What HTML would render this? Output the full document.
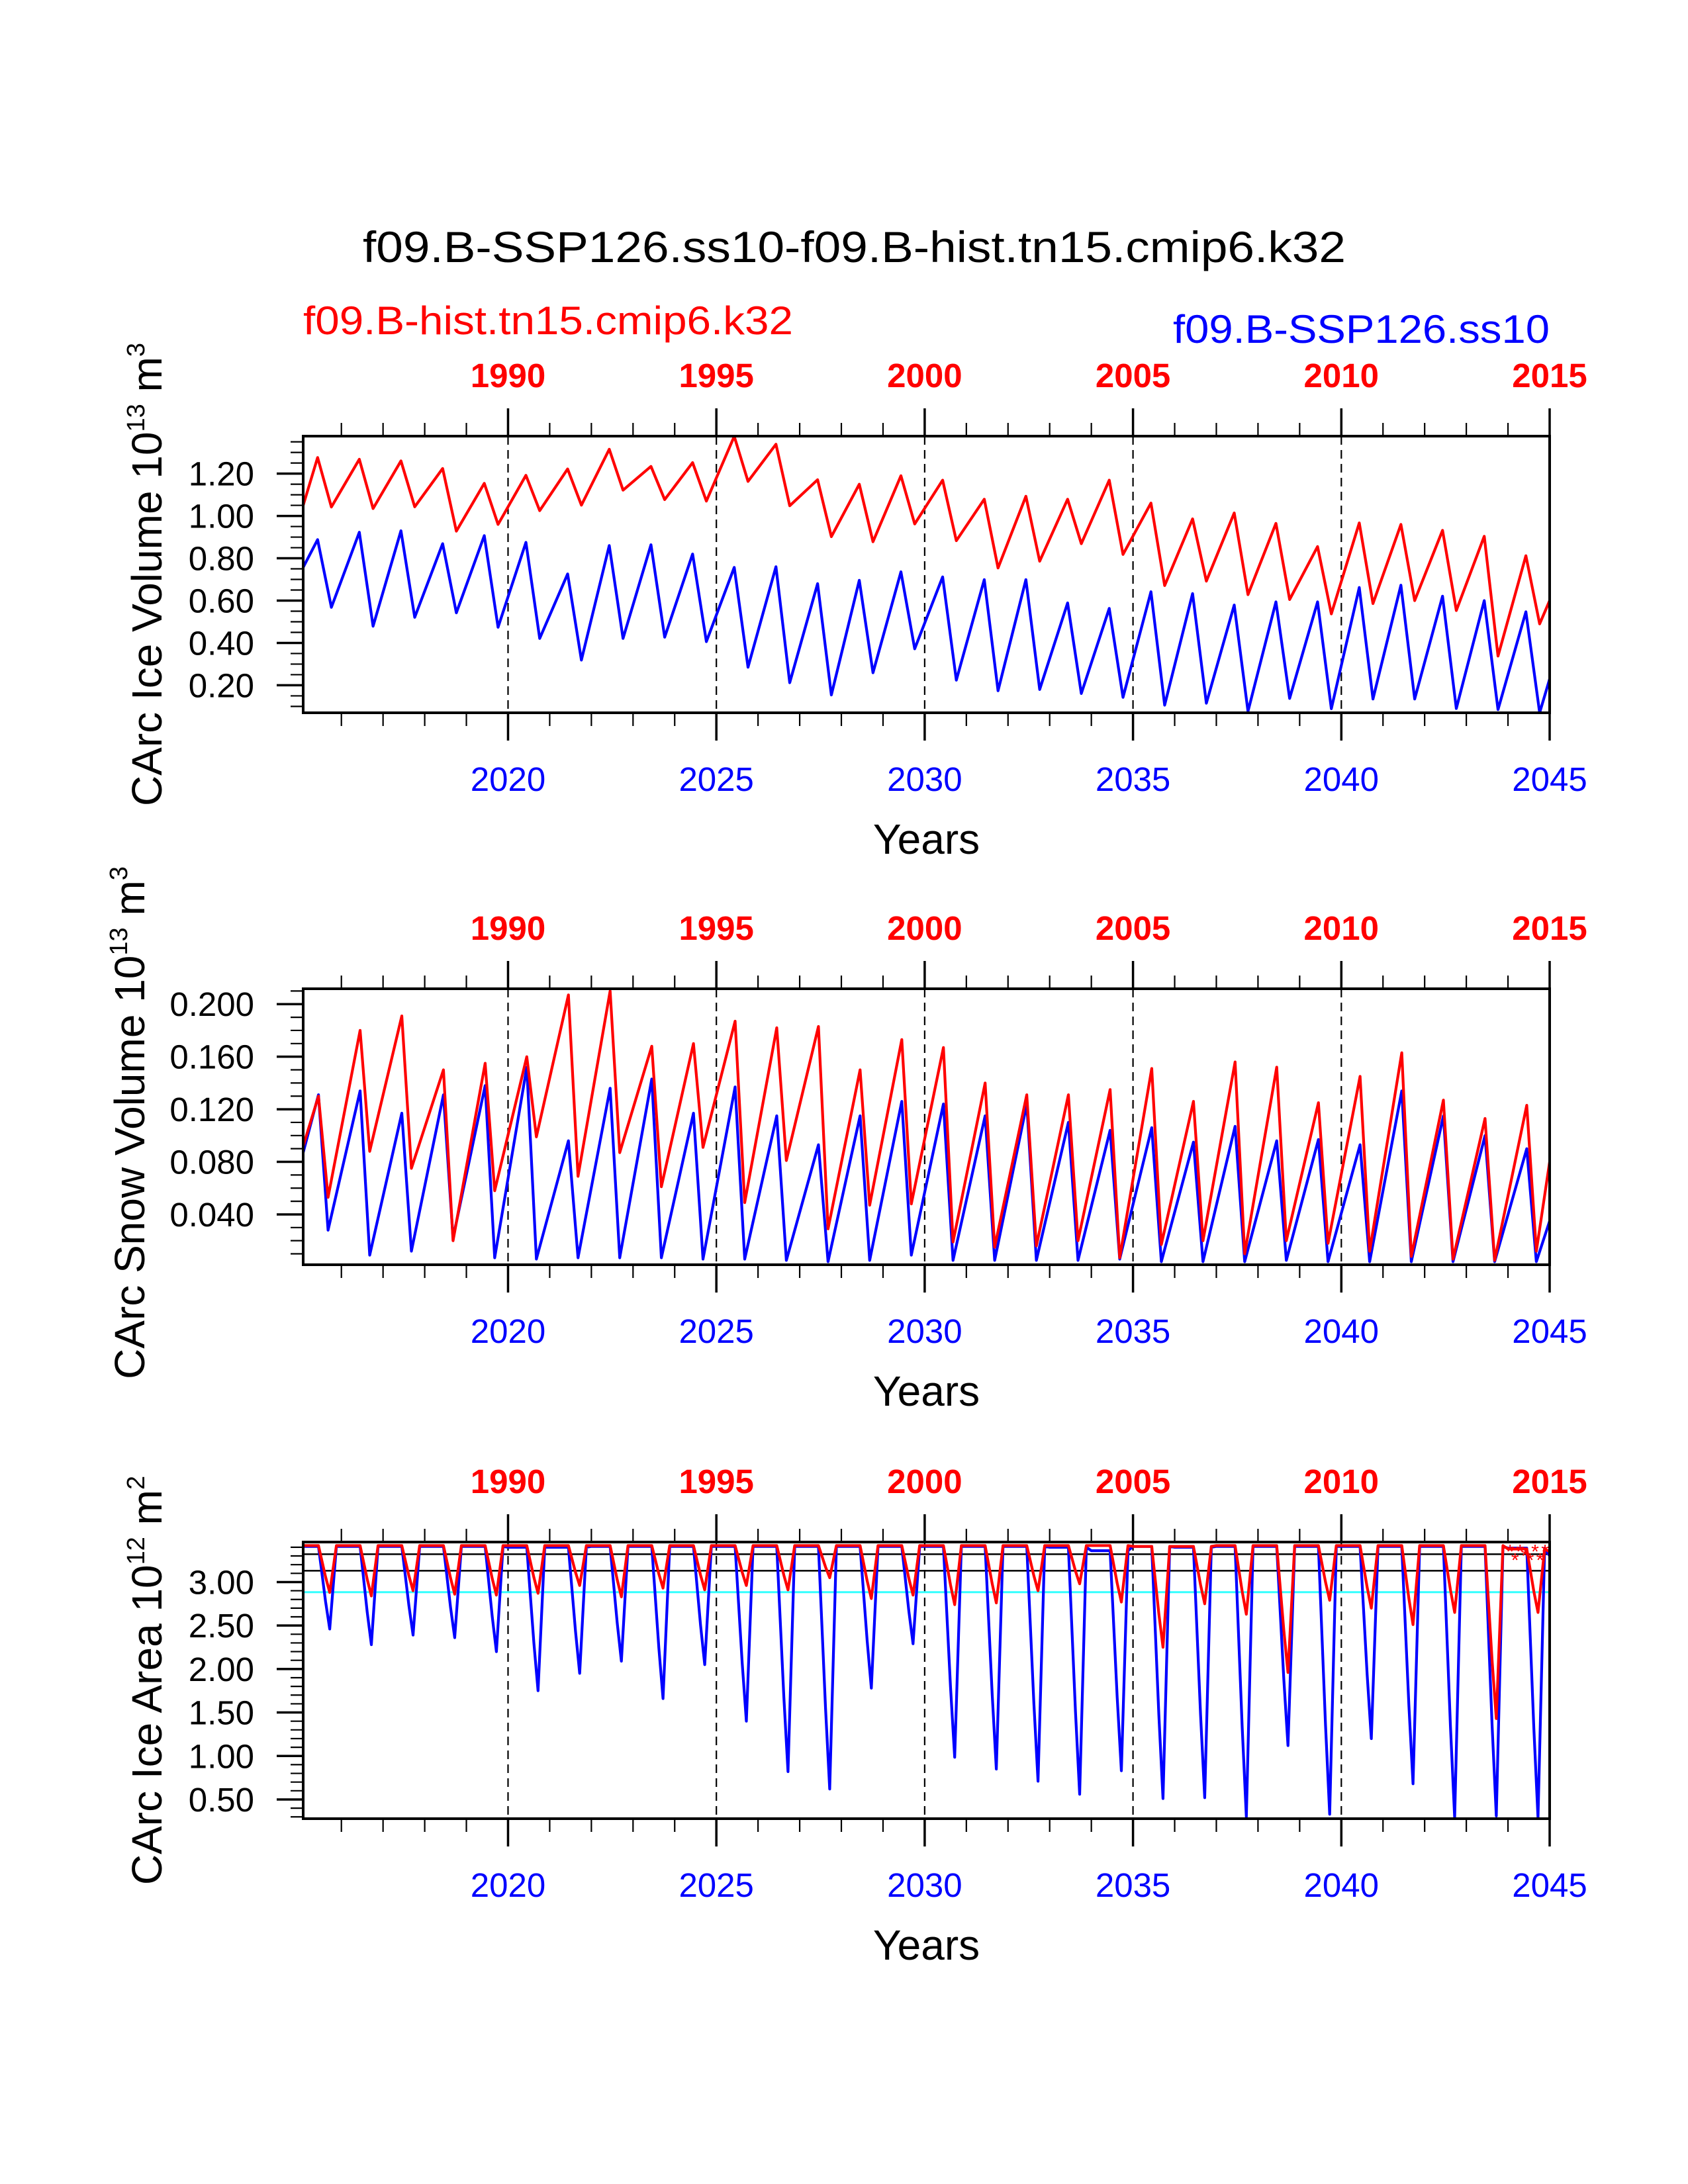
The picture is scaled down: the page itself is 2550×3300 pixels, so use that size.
<!DOCTYPE html>
<html><head><meta charset="utf-8"><style>
html,body{margin:0;padding:0;background:#fff;}
svg{display:block;font-family:"Liberation Sans",Arial,sans-serif;}
</style></head><body>
<svg id="chart" xmlns="http://www.w3.org/2000/svg" width="2550" height="3300" viewBox="0 0 2550 3300">
<rect width="2550" height="3300" fill="#fff"/>
<text x="548" y="396" font-size="66" textLength="1485" lengthAdjust="spacingAndGlyphs">f09.B-SSP126.ss10-f09.B-hist.tn15.cmip6.k32</text>
<text x="458" y="505" font-size="60" fill="#ff0000" textLength="740" lengthAdjust="spacingAndGlyphs">f09.B-hist.tn15.cmip6.k32</text>
<text x="1772" y="518" font-size="60" fill="#0000ff" textLength="569" lengthAdjust="spacingAndGlyphs">f09.B-SSP126.ss10</text>
<g id="plots"></g>
</svg>
<script>
// ---- data (blue = 2015-2044 SSP126, red = 1985-2014 hist), one peak & trough per year ----
const years = [2015,2016,2017,2018,2019,2020,2021,2022,2023,2024,2025,2026,2027,2028,2029,2030,2031,2032,2033,2034,2035,2036,2037,2038,2039,2040,2041,2042,2043,2044];
const topYearLabels = ["1990","1995","2000","2005","2010","2015"];
const bottomYearLabels = ["2020","2025","2030","2035","2040","2045"];

const iceVolRedPeak   = [1.276,1.268,1.26,1.224,1.154,1.192,1.222,1.315,1.234,1.252,1.376,1.339,1.171,1.15,1.19,1.169,1.079,1.093,1.079,1.169,1.061,0.986,1.014,0.965,0.855,0.967,0.96,0.932,0.904,0.812];
const iceVolRedTrough = [1.042,1.035,1.043,0.928,0.96,1.025,1.051,1.122,1.077,1.07,1.163,1.048,0.902,0.878,0.962,0.883,0.754,0.786,0.869,0.818,0.671,0.692,0.628,0.605,0.537,0.586,0.6,0.553,0.338,0.49];
const iceVolRedEnds = [1.05,0.6];
const iceVolBluePeak   = [0.888,0.923,0.93,0.869,0.907,0.875,0.726,0.86,0.864,0.82,0.757,0.76,0.68,0.696,0.736,0.712,0.699,0.699,0.589,0.563,0.642,0.633,0.579,0.594,0.594,0.662,0.673,0.621,0.6,0.547];
const iceVolBlueTrough = [0.568,0.479,0.521,0.542,0.474,0.421,0.319,0.421,0.427,0.406,0.285,0.212,0.154,0.259,0.372,0.224,0.174,0.18,0.161,0.143,0.106,0.115,0.077,0.138,0.089,0.135,0.135,0.09,0.085,0.07];
const iceVolBlueEnds = [0.757,0.23];

const snowRedPeak   = [0.130,0.180,0.191,0.150,0.155,0.160,0.207,0.210,0.168,0.170,0.187,0.182,0.183,0.150,0.173,0.167,0.140,0.131,0.131,0.135,0.151,0.126,0.156,0.152,0.125,0.145,0.163,0.127,0.113,0.123];
const snowRedTrough = [0.053,0.088,0.075,0.020,0.058,0.099,0.069,0.087,0.061,0.091,0.049,0.081,0.029,0.047,0.048,0.019,0.015,0.016,0.020,0.007,0.017,0.020,0.010,0.020,0.018,0.012,0.008,0.006,0.005,0.012];
const snowRedEnds = [0.092,0.080];
const snowBluePeak   = [0.131,0.134,0.117,0.131,0.138,0.152,0.096,0.136,0.143,0.117,0.137,0.115,0.093,0.115,0.126,0.124,0.115,0.124,0.110,0.104,0.106,0.095,0.107,0.096,0.097,0.093,0.134,0.115,0.100,0.090];
const snowBlueTrough = [0.028,0.009,0.012,0.022,0.007,0.006,0.007,0.007,0.007,0.006,0.006,0.005,0.004,0.005,0.009,0.005,0.005,0.005,0.005,0.006,0.004,0.004,0.004,0.005,0.004,0.004,0.004,0.004,0.004,0.004];
const snowBlueEnds = [0.087,0.035];

const areaRedPlateau = [3.42,3.42,3.42,3.42,3.42,3.42,3.42,3.42,3.42,3.42,3.42,3.42,3.42,3.42,3.42,3.42,3.42,3.42,3.42,3.42,3.41,3.41,3.42,3.42,3.42,3.42,3.42,3.42,3.42,3.38];
const areaRedTrough  = [2.88,2.84,2.90,2.86,2.85,2.87,2.96,2.83,2.93,2.91,2.96,2.91,3.05,2.81,2.85,2.74,2.76,2.90,2.98,2.77,2.25,2.75,2.63,1.96,2.79,2.70,2.51,2.65,1.43,2.65];
const areaRedEnds = [3.42,3.35];
const areaBluePlateau = [3.41,3.41,3.41,3.41,3.41,3.40,3.40,3.41,3.41,3.41,3.41,3.41,3.41,3.41,3.41,3.41,3.41,3.41,3.40,3.36,3.41,3.40,3.41,3.41,3.41,3.41,3.41,3.41,3.41,3.39];
const areaBlueTrough  = [2.46,2.28,2.39,2.36,2.20,1.75,1.95,2.09,1.66,2.05,1.40,0.82,0.62,1.78,2.29,0.985,0.85,0.71,0.56,0.83,0.51,0.52,0.30,1.12,0.33,1.20,0.68,0.29,0.31,0.29];
const areaBlueEnds = [3.41,3.30];
const areaRefLines = [3.32,3.13];
const areaCyanLine = [2.884];

// ---- layout ----
const NS="http://www.w3.org/2000/svg";
const X0=458, X1=2341, T0=2015.083, T1=2045;
function xOf(t){return X0+(t-T0)/(T1-T0)*(X1-X0);}
const panels=[
 {top:659,bot:1077,vmin:0.070,vmax:1.377,major:0.2,minor:0.05,mlo:0.1,mhi:1.35,dec:2,
  title:["CArc Ice Volume 10","13"," m","3"],tx:244,
  red:{peak:iceVolRedPeak,trough:iceVolRedTrough,ends:iceVolRedEnds},blue:{peak:iceVolBluePeak,trough:iceVolBlueTrough,ends:iceVolBlueEnds},kind:"vol",name:"ice-volume"},
 {top:1494,bot:1911,vmin:0.0017,vmax:0.2117,major:0.04,minor:0.01,mlo:0.01,mhi:0.21,dec:3,
  title:["CArc Snow Volume 10","13"," m","3"],tx:218,
  red:{peak:snowRedPeak,trough:snowRedTrough,ends:snowRedEnds},blue:{peak:snowBluePeak,trough:snowBlueTrough,ends:snowBlueEnds},kind:"snow",name:"snow-volume"},
 {top:2330,bot:2748,vmin:0.279,vmax:3.46,major:0.5,minor:0.1,mlo:0.3,mhi:3.4,dec:2,
  title:["CArc Ice Area 10","12"," m","2"],tx:244,
  red:{peak:areaRedPlateau,trough:areaRedTrough,ends:areaRedEnds},blue:{peak:areaBluePlateau,trough:areaBlueTrough,ends:areaBlueEnds},kind:"area",name:"ice-area"}
];
function mk(tag,attrs,parent){const e=document.createElementNS(NS,tag);for(const k in attrs)e.setAttribute(k,attrs[k]);parent.appendChild(e);return e;}
const root=document.getElementById("plots");

function seriesPoints(s,kind){
  const pts=[[T0,s.ends[0]]];
  years.forEach((y,i)=>{
    if(kind==="vol"){pts.push([y+0.43,s.peak[i]]);pts.push([y+0.76,s.trough[i]]);}
    else if(kind==="snow"){pts.push([y+0.45,s.peak[i]]);pts.push([y+0.68,s.trough[i]]);}
    else{ if(i>0)pts.push([y+0.0,s.peak[i]]); pts.push([y+0.45,s.peak[i]]);pts.push([y+0.62,(s.peak[i]+s.trough[i]*2)/3]);pts.push([y+0.72,s.trough[i]]);pts.push([y+0.88,s.peak[i]]);}
  });
  pts.push([T1,s.ends[1]]);
  return pts;
}

panels.forEach((p,pi)=>{
  const g=mk("g",{},root);
  
  
  const yOf=v=>p.bot-(v-p.vmin)/(p.vmax-p.vmin)*(p.bot-p.top);
  const cid="clip"+pi;
  const cp=mk("clipPath",{id:cid},g);
  mk("rect",{x:X0,y:p.top,width:X1-X0,height:p.bot-p.top},cp);
  // dashed year lines
  for(let yr=2020;yr<=2040;yr+=5){
    const l=mk("line",{x1:xOf(yr),x2:xOf(yr),y1:p.top,y2:p.bot,stroke:"#000","stroke-width":2.2,"stroke-dasharray":"13 8"},g);
    
    
  }
  if(p.kind==="area"){
    areaRefLines.forEach(v=>{
      const l=mk("line",{x1:X0,x2:X1,y1:yOf(v),y2:yOf(v),stroke:"#000","stroke-width":2.5},g);
      
      
    });
    areaCyanLine.forEach(v=>{
      const l=mk("line",{x1:X0,x2:X1,y1:yOf(v),y2:yOf(v),stroke:"#33ffff","stroke-width":3},g);
      
      
    });
  }
  [["blue","#0000ff"],["red","#ff0000"]].forEach(([k,c])=>{
    const pts=seriesPoints(p[k],p.kind).map(q=>xOf(q[0]).toFixed(1)+","+yOf(q[1]).toFixed(1)).join(" ");
    const pl=mk("polyline",{points:pts,fill:"none",stroke:c,"stroke-width":4.2,"stroke-linejoin":"round","clip-path":"url(#"+cid+")"},g);
    
    
  });
  if(p.kind==="area"){
    for(let t=2044.05;t<2045;t+=0.12){
      const v=areaRedEnds[1]-0.05*((Math.round((t-2044)*10))%3);
      const m=mk("text",{x:xOf(t),y:yOf(v)+10,"font-size":30,fill:"#ff0000","text-anchor":"middle"},g);
      m.textContent="*";
      
      
    }
  }
  // box
  const box=mk("rect",{x:X0,y:p.top,width:X1-X0,height:p.bot-p.top,fill:"none",stroke:"#000","stroke-width":4},g);
  
  
  // x ticks
  for(let yr=2016;yr<=2045;yr++){
    const maj=yr%5===0, L=maj?42:20, w=maj?3.5:2.2;
    mk("line",{x1:xOf(yr),x2:xOf(yr),y1:p.top,y2:p.top-L,stroke:"#000","stroke-width":w},g);
    mk("line",{x1:xOf(yr),x2:xOf(yr),y1:p.bot,y2:p.bot+L,stroke:"#000","stroke-width":w},g);
  }
  topYearLabels.forEach((s,i)=>{
    const t=mk("text",{x:xOf(2020+5*i),y:p.top-74,"font-size":51,"font-weight":"bold",fill:"#ff0000","text-anchor":"middle"},g);
    t.textContent=s;
    
    
  });
  bottomYearLabels.forEach((s,i)=>{
    const t=mk("text",{x:xOf(2020+5*i),y:p.bot+118,"font-size":51,fill:"#0000ff","text-anchor":"middle"},g);
    t.textContent=s;
    
    
  });
  const xt=mk("text",{x:(X0+X1)/2,y:p.bot+213,"font-size":64,"text-anchor":"middle"},g);
  xt.textContent="Years";
  
  
  // y ticks
  const n=Math.round((p.mhi-p.mlo)/p.minor);
  for(let i=0;i<=n;i++){
    const v=p.mlo+i*p.minor, y=yOf(v);
    if(y<p.top-1||y>p.bot+1)continue;
    const r=v/p.major, maj=Math.abs(r-Math.round(r))<1e-6;
    mk("line",{x1:X0,x2:X0-(maj?40:19),y1:y,y2:y,stroke:"#000","stroke-width":maj?3.5:2.2},g);
    if(maj){
      const t=mk("text",{x:384,y:y+18,"font-size":51,"text-anchor":"end"},g);
      t.textContent=v.toFixed(p.dec);
      
      
    }
  }
  // y title
  const cy=(p.top+p.bot)/2+(pi===1?-6:0)+ (pi===0?-0:0);
  const yt=mk("text",{x:p.tx,y:cy+(pi===0?0:0),"font-size":64,"text-anchor":"middle",transform:"rotate(-90 "+p.tx+" "+(cy)+")"},g);
  
  
  const a=mk("tspan",{},yt);a.textContent=p.title[0];
  const b=mk("tspan",{"font-size":38,dy:-26},yt);b.textContent=p.title[1];
  const c=mk("tspan",{dy:26},yt);c.textContent=p.title[2];
  const d=mk("tspan",{"font-size":38,dy:-26},yt);d.textContent=p.title[3];
});
</script>
</body></html>
